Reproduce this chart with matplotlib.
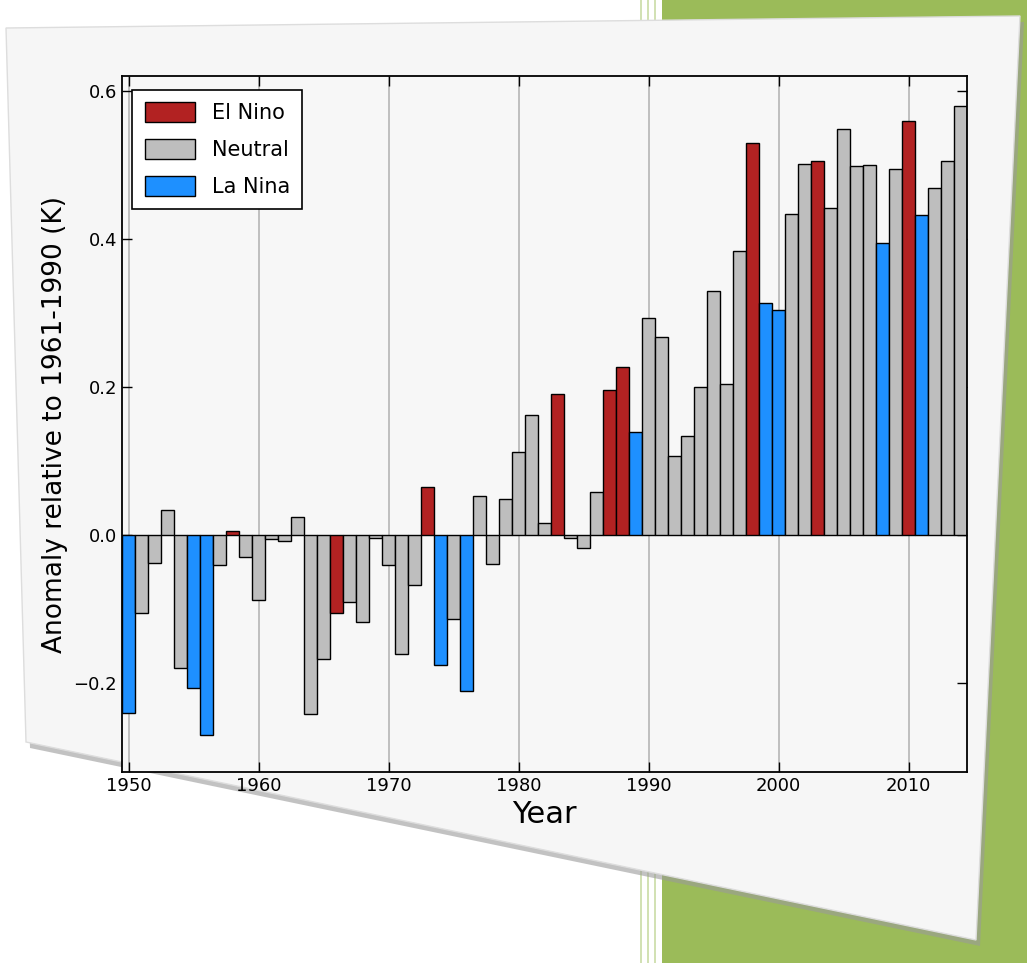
import matplotlib
matplotlib.use("Agg")
import matplotlib.pyplot as plt
from matplotlib.patches import Patch, Polygon, Rectangle
from matplotlib.lines import Line2D

years = list(range(1950, 2015))
anomaly = [
    -0.240, -0.105, -0.038, 0.034, -0.180, -0.206, -0.270, -0.040, 0.005, -0.030,
    -0.088, -0.005, -0.008, 0.024, -0.242, -0.167, -0.105, -0.091, -0.118, -0.004,
    -0.041, -0.161, -0.067, 0.065, -0.176, -0.114, -0.210, 0.053, -0.039, 0.049,
    0.112, 0.162, 0.016, 0.190, -0.004, -0.017, 0.058, 0.196, 0.227, 0.139,
    0.293, 0.267, 0.107, 0.134, 0.200, 0.330, 0.204, 0.384, 0.530, 0.313,
    0.304, 0.434, 0.501, 0.505, 0.442, 0.548, 0.498, 0.500, 0.395, 0.495,
    0.559, 0.432, 0.469, 0.505, 0.580,
]
enso = list(
    "LNNNNLLNEN"   # 1950-1959
    "NNNNNNENNN"   # 1960-1969
    "NNNELNLNNN"   # 1970-1979
    "NNNENNNEEL"   # 1980-1989
    "NNNNNNNNEL"   # 1990-1999
    "LNNENNNNLN"   # 2000-2009
    "ELNNN"        # 2010-2014
)
phase_names = {"E": "El Nino", "N": "Neutral", "L": "La Nina"}
phase_colors = {"E": "#b22222", "N": "#bebebe", "L": "#1e90ff"}
xticks = [1950, 1960, 1970, 1980, 1990, 2000, 2010]
yticks = [-0.2, 0.0, 0.2, 0.4, 0.6]

W, H = 1027, 963
fig = plt.figure(figsize=(W / 100, H / 100), dpi=100, facecolor="white")

def fx(x):
    return x / W

def fy(y):
    return 1 - y / H

# background decoration: green panel with thin light lines
fig.patches.append(Rectangle((fx(662), 0), 1 - fx(662), 1, transform=fig.transFigure,
                             facecolor="#9bbb59", edgecolor="none", zorder=0))
for lx in (641, 648, 655):
    fig.lines.append(Line2D([fx(lx), fx(lx)], [0, 1], transform=fig.transFigure,
                            color="#c9dba6", lw=1.2, zorder=0.5))

# card with shadow
card = [(6, 28), (1020, 16), (976, 940), (26, 742)]
shadow = [(x + 4, y + 6) for x, y in card]
fig.patches.append(Polygon([(fx(x), fy(y)) for x, y in shadow], closed=True,
                           transform=fig.transFigure, facecolor="#9a9a9a",
                           edgecolor="none", alpha=0.6, zorder=1))
fig.patches.append(Polygon([(fx(x), fy(y)) for x, y in card], closed=True,
                           transform=fig.transFigure, facecolor="#f6f6f6",
                           edgecolor="#dddddd", lw=1, zorder=2))

left, right, top, bottom = 122, 967, 76, 772
ax = fig.add_axes([fx(left), fy(bottom), fx(right) - fx(left), (bottom - top) / H])
ax.set_zorder(3)
ax.set_facecolor("#f7f7f7")

colors = [phase_colors[c] for c in enso]
ax.bar(years, anomaly, width=1.0, color=colors, edgecolor="black", linewidth=1.0, zorder=2)

ax.set_xlim(1949.5, 2014.5)
ax.set_ylim(-0.32, 0.62)
ax.set_xticks(xticks)
ax.set_yticks(yticks)
ax.set_yticklabels(["\u22120.2", "0.0", "0.2", "0.4", "0.6"])
ax.tick_params(direction="in", top=True, right=True, length=7, width=1, labelsize=13)
ax.xaxis.grid(True, color="#b5b5b5", lw=1.2, zorder=0)
ax.set_axisbelow(True)
for s in ax.spines.values():
    s.set_linewidth(1.3)

ax.set_xlabel("Year", fontsize=22)
ax.set_ylabel("Anomaly relative to 1961-1990 (K)", fontsize=19)

handles = [Patch(facecolor=phase_colors[k], edgecolor="black", label=phase_names[k])
           for k in ("E", "N", "L")]
leg = ax.legend(handles=handles, loc="upper left", fontsize=15, fancybox=False,
                framealpha=1, edgecolor="black", borderpad=0.6, handlelength=2.4,
                handleheight=1.1, labelspacing=0.75,
                bbox_to_anchor=(0.0, 0.995))
leg.get_frame().set_linewidth(1.2)

fig.savefig("out.png", dpi=100, facecolor=fig.get_facecolor())
